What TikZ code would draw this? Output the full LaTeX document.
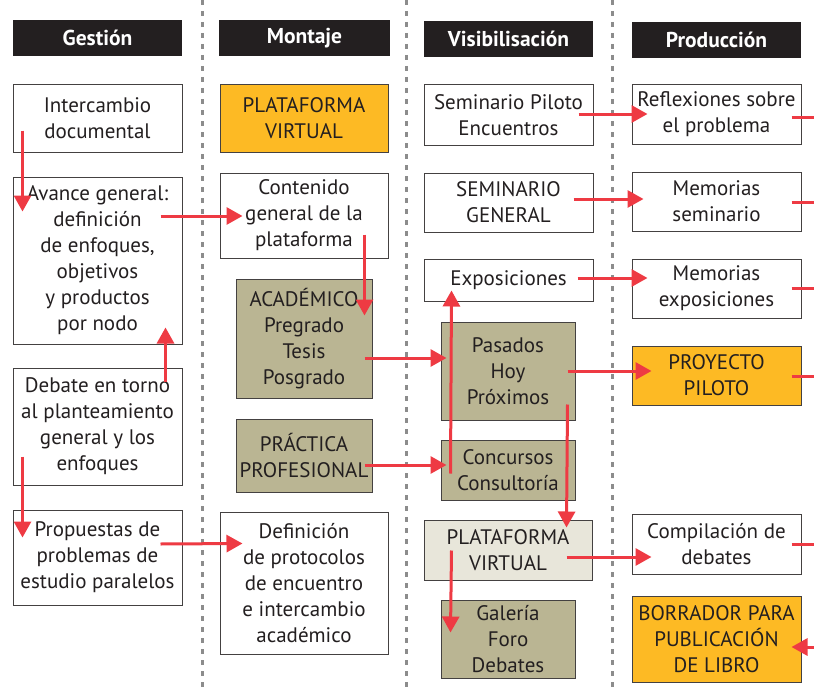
\documentclass[tikz,border=0pt]{standalone}
\usepackage{fontspec}
\setmainfont{PT Sans}
\usepackage{xcolor}
\usetikzlibrary{arrows.meta}

\definecolor{rojo}{HTML}{EE3A43}
\definecolor{naranja}{HTML}{FDBA24}
\definecolor{oliva}{HTML}{BAB593}
\definecolor{crema}{HTML}{E8E6DA}
\definecolor{negro}{HTML}{231F20}
\definecolor{gris}{HTML}{8C8C8C}

\begin{document}
\begin{tikzpicture}[x=1pt,y=-1pt,
  caja/.style={draw=negro!85,line width=1pt,fill=white,inner sep=0pt,align=center,
    font=\fontsize{21}{26}\selectfont,text=negro},
  ancha/.style={caja,minimum width=169pt},
  angosta/.style={caja,fill=oliva,minimum width=134pt},
  cabeza/.style={fill=negro,text=white,inner sep=0pt,minimum width=169pt,minimum height=36pt,
    font=\bfseries\fontsize{21.5}{24}\selectfont},
  arr/.style={draw=rojo,line width=3pt,-{Triangle[length=16pt,width=17pt]}},
  linea/.style={draw=rojo,line width=3pt},
  sep/.style={draw=gris,line width=3pt,dash pattern=on 5pt off 6pt}]

  \path[use as bounding box,fill=white] (0,0) rectangle (814,693);

  % column separators
  \draw[sep] (202,0) -- (202,693);
  \draw[sep] (406,0) -- (406,693);
  \draw[sep] (612,0) -- (612,693);

  % headers
  \node[cabeza] (h1) at (97.5,38) {Gestión};
  \node[cabeza,minimum width=171pt] (h2) at (304.5,38) {Montaje};
  \node[cabeza] (h3) at (508.5,39) {Visibilisación};
  \node[cabeza] (h4) at (716.5,40) {Producción};

  % Gestion
  \node[ancha,minimum height=67pt] (g1) at (97.5,118.5) {Intercambio\\documental};
  \node[ancha,minimum height=167pt] (g2) at (97.5,260.5) {Avance general:\\definición\\de enfoques,\\objetivos\\y productos\\por nodo};
  \node[ancha,minimum height=117pt] (g3) at (97.5,426.5) {Debate en torno\\al planteamiento\\general y los\\enfoques};
  \node[ancha,minimum height=95pt] (g4) at (97.5,557.5) {Propuestas de\\problemas de\\estudio paralelos};

  % Montaje
  \node[ancha,fill=naranja,minimum width=168pt,minimum height=67pt] (m1) at (304,118.5) {PLATAFORMA\\VIRTUAL};
  \node[ancha,minimum width=168pt,minimum height=85pt] (m2) at (304,215.5) {Contenido\\general de la\\plataforma};
  \node[angosta,minimum width=136pt,minimum height=119pt] (m3) at (304,338.5) {ACADÉMICO\\Pregrado\\Tesis\\Posgrado};
  \node[angosta,minimum width=136pt,minimum height=73pt] (m4) at (304,455.5) {PRÁCTICA\\PROFESIONAL};
  \node[ancha,minimum width=168pt,minimum height=142pt] (m5) at (304,583) {Definición\\de protocolos\\de encuentro\\e intercambio\\académico};

  % Visibilisacion
  \node[ancha,minimum height=60pt] (v1) at (508.5,115) {Seminario Piloto\\Encuentros};
  \node[ancha,minimum height=59pt] (v2) at (508.5,202.5) {SEMINARIO\\GENERAL};
  \node[ancha,minimum height=42pt] (v3) at (508.5,280) {Exposiciones};
  \node[angosta,minimum height=98pt] (v4) at (508,371) {Pasados\\Hoy\\Próximos};
  \node[angosta,minimum height=60pt] (v5) at (508,470) {Concursos\\Consultoría};
  \node[ancha,fill=crema,minimum width=168pt,minimum height=60pt] (v6) at (508,550) {PLATAFORMA\\VIRTUAL};
  \node[angosta,minimum height=78pt] (v7) at (508,639) {Galería\\Foro\\Debates};

  % Produccion
  \node[ancha,minimum height=59pt] (p1) at (716.5,114.5) {Reflexiones sobre\\el problema};
  \node[ancha,minimum height=59pt] (p2) at (716.5,201.5) {Memorias\\seminario};
  \node[ancha,minimum height=59pt] (p3) at (716.5,288.5) {Memorias\\exposiciones};
  \node[ancha,fill=naranja,minimum height=59pt] (p4) at (716.5,375.5) {PROYECTO\\PILOTO};
  \node[ancha,minimum height=60pt] (p5) at (716.5,544) {Compilación de\\debates};
  \node[ancha,fill=naranja,minimum height=86pt] (p6) at (716.5,639) {BORRADOR PARA\\PUBLICACIÓN\\DE LIBRO};

  % loose ends on the right border
  \coordinate (o1) at (814,117);
  \coordinate (o2) at (814,202);
  \coordinate (o3) at (814,288);
  \coordinate (o4) at (814,376);
  \coordinate (o5) at (814,544);
  \coordinate (o6) at (814,647);

  % Draw edges
  \draw[arr] ([shift={(10,-22)}]g1.south west) -- ([shift={(10,35)}]g2.north west); % down
  \draw[arr] ([shift={(-22,-44.5)}]g2.east) -- ([shift={(23,0.5)}]m2.west);
  \draw[arr] ([shift={(-17,14)}]g3.north east) -- ([shift={(-17,-17)}]g2.south east); % up
  \draw[arr] ([shift={(10,-29)}]g3.south west) -- ([shift={(10,28)}]g4.north west); % down
  \draw[arr] ([shift={(-22,-13.5)}]g4.east) -- ([shift={(23,32)}]m5.north west);
  \draw[arr] ([shift={(-24,-24)}]m2.south east) -- ([shift={(-8,37)}]m3.north east); % down
  \draw[arr] ([shift={(-8,19.5)}]m3.east) -- ([shift={(6,-13)}]v4.west);
  \draw[arr] ([shift={(-8,9.5)}]m4.east) -- ([shift={(6,-5)}]v5.west);
  \draw[arr] ([shift={(10,-27)}]v5.south west) -- ([shift={(28,-11)}]v3.south west); % up
  \draw[arr] ([shift={(-8,0)}]v4.east) -- ([shift={(20,-4.5)}]p4.west);
  \draw[arr] ([shift={(-8,-16)}]v4.south east) -- ([shift={(-26,8)}]v6.north east); % down
  \draw[arr] ([shift={(-26,7)}]v6.east) -- ([shift={(20,13)}]p5.west);
  \draw[arr] ([shift={(28,31)}]v6.north west) -- ([shift={(10,33)}]v7.north west); % down
  \draw[arr] ([shift={(-15,-1)}]v1.east) -- ([shift={(16,-0.5)}]p1.west);
  \draw[arr] ([shift={(-20,-3.5)}]v2.east) -- ([shift={(12,-2.5)}]p2.west);
  \draw[arr] ([shift={(-16,-2)}]v3.east) -- ([shift={(16,-10.5)}]p3.west);
  \draw[linea] ([shift={(-10,2.5)}]p1.east) -- (o1);
  \draw[linea] ([shift={(-10,0.5)}]p2.east) -- (o2);
  \draw[linea] ([shift={(-10,-0.5)}]p3.east) -- (o3);
  \draw[linea] ([shift={(-10,0.5)}]p4.east) -- (o4);
  \draw[linea] ([shift={(-10,0)}]p5.east) -- (o5);
  \draw[arr] (o6) -- ([shift={(-10,8)}]p6.east); % into the box
\end{tikzpicture}
\end{document}
